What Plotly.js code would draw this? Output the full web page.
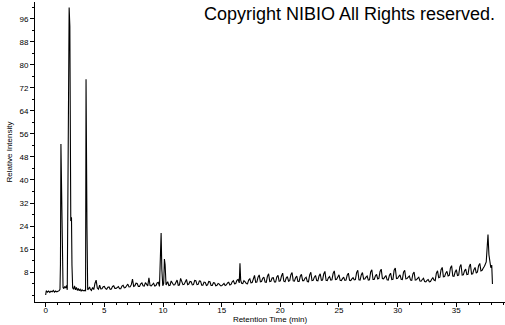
<!DOCTYPE html>
<html>
<head>
<meta charset="utf-8">
<script src="https://cdn.plot.ly/plotly-3.0.1.min.js"></script>
<style>html,body{margin:0;padding:0;background:#fff;}#chart{width:505px;height:325px;}</style>
</head>
<body>
<div id="chart"></div>
<script>
// Retention time (min) and relative intensity
const retentionTime = [
  0, 0.05, 0.15, 0.25, 0.35, 0.45, 0.55, 0.65, 0.75, 0.85, 0.95, 1.05, 1.15, 1.22, 1.26, 1.3, 1.36, 1.42, 1.48,
  1.55, 1.62, 1.7, 1.78, 1.84, 1.88, 1.94, 2.0, 2.06, 2.14, 2.2, 2.24, 2.3, 2.38, 2.46, 2.54, 2.62, 2.7, 2.78,
  2.86, 2.94, 3.02, 3.1, 3.18, 3.26, 3.34, 3.4, 3.44, 3.52, 3.58, 3.66, 3.74,
  3.8, 3.9,
  4.0, 4.1, 4.2, 4.3, 4.4, 4.5, 4.6, 4.7, 4.8, 4.9,
  5.0, 5.1, 5.2, 5.3, 5.4, 5.5, 5.6, 5.7, 5.8, 5.9,
  6.0, 6.1, 6.2, 6.3, 6.4, 6.5, 6.6, 6.7, 6.8, 6.9,
  7.0, 7.1, 7.2, 7.3, 7.4, 7.5, 7.6, 7.7, 7.8, 7.9,
  8.0, 8.1, 8.2, 8.3, 8.4, 8.5, 8.6, 8.7, 8.8, 8.9,
  9.0, 9.1, 9.2, 9.3, 9.4, 9.5, 9.6, 9.7,
  9.78, 9.84, 9.9, 9.98, 10.06, 10.12, 10.18, 10.26, 10.33,
  10.4, 10.5, 10.6, 10.7, 10.8, 10.9,
  11.0, 11.1, 11.2, 11.3, 11.4, 11.5, 11.6, 11.7, 11.8, 11.9,
  12.0, 12.1, 12.2, 12.3, 12.4, 12.5, 12.6, 12.7, 12.8, 12.9,
  13.0, 13.1, 13.2, 13.3, 13.4, 13.5, 13.6, 13.7, 13.8, 13.9,
  14.0, 14.1, 14.2, 14.3, 14.4, 14.5, 14.6, 14.7, 14.8, 14.9,
  15.0, 15.1, 15.2, 15.3, 15.4, 15.5, 15.6, 15.7, 15.8, 15.9,
  16.0, 16.1, 16.2, 16.3, 16.4, 16.5, 16.56, 16.62, 16.7, 16.8, 16.9,
  17.0, 17.1, 17.2, 17.3, 17.4, 17.5, 17.6, 17.7, 17.8, 17.9,
  18.0, 18.1, 18.2, 18.3, 18.4, 18.5, 18.6, 18.7, 18.8, 18.9,
  19.0, 19.1, 19.2, 19.3, 19.4, 19.5, 19.6, 19.7, 19.8, 19.9,
  20.0, 20.1, 20.2, 20.3, 20.4, 20.5, 20.6, 20.7, 20.8, 20.9,
  21.0, 21.1, 21.2, 21.3, 21.4, 21.5, 21.6, 21.7, 21.8, 21.9,
  22.0, 22.1, 22.2, 22.3, 22.4, 22.5, 22.6, 22.7, 22.8, 22.9,
  23.0, 23.1, 23.2, 23.3, 23.4, 23.5, 23.6, 23.7, 23.8, 23.9,
  24.0, 24.1, 24.2, 24.3, 24.4, 24.5, 24.6, 24.7, 24.8, 24.9,
  25.0, 25.1, 25.2, 25.3, 25.4, 25.5, 25.6, 25.7, 25.8, 25.9,
  26.0, 26.1, 26.2, 26.3, 26.4, 26.5, 26.6, 26.7, 26.8, 26.9,
  27.0, 27.1, 27.2, 27.3, 27.4, 27.5, 27.6, 27.7, 27.8, 27.9,
  28.0, 28.1, 28.2, 28.3, 28.4, 28.5, 28.6, 28.7, 28.8, 28.9,
  29.0, 29.1, 29.2, 29.3, 29.4, 29.5, 29.6, 29.7, 29.8, 29.9,
  30.0, 30.1, 30.2, 30.3, 30.4, 30.5, 30.6, 30.7, 30.8, 30.9,
  31.0, 31.1, 31.2, 31.3, 31.4, 31.5, 31.6, 31.7, 31.8, 31.9,
  32.0, 32.1, 32.2, 32.3, 32.4, 32.5, 32.6, 32.7, 32.8, 32.9,
  33.0, 33.1, 33.2, 33.3, 33.4, 33.5, 33.6, 33.7, 33.8, 33.9,
  34.0, 34.1, 34.2, 34.3, 34.4, 34.5, 34.6, 34.7, 34.8, 34.9,
  35.0, 35.1, 35.2, 35.3, 35.4, 35.5, 35.6, 35.7, 35.8, 35.9,
  36.0, 36.1, 36.2, 36.3, 36.4, 36.5, 36.6, 36.7, 36.8, 36.9,
  37.0, 37.1, 37.2, 37.3, 37.4, 37.55, 37.7, 37.78, 37.86, 37.94, 38.02, 38.08
];
const relIntensity = [
  0, 1.5, 1.0, 1.4, 0.9, 1.3, 1.1, 1.6, 1.0, 1.4, 1.1, 1.3, 1.5, 2.0, 10.8, 52.5, 37, 5.5, 2.6,
  2.2, 3.0, 2.4, 3.3, 1.8, 22, 57, 100, 93.5, 25.7, 27, 10.4, 2.5, 2.0, 3.2, 1.8, 2.6, 1.6, 2.3,
  1.5, 2.0, 1.4, 1.8, 1.5, 1.7, 1.6, 1.5, 75, 23.5, 1.8, 2.2, 2.8,
  2.0, 1.6,
  2.6, 1.9, 4.0, 5.2, 2.4, 2.0, 3.4, 2.1, 2.2, 2.9,
  3.0, 2.2, 2.0, 2.7, 2.8, 2.0, 2.1, 3.0, 3.2, 2.3,
  2.3, 2.8, 2.9, 2.2, 2.2, 3.1, 3.4, 2.5, 2.6, 3.2,
  3.8, 2.8, 2.9, 3.6, 5.5, 3.0, 3.2, 4.1, 4.0, 3.0,
  3.0, 3.9, 4.2, 3.2, 3.1, 4.3, 3.8, 3.2, 6.0, 3.3,
  3.2, 3.8, 4.1, 3.1, 3.3, 4.2, 4.4, 3.0,
  18, 21.6, 9, 3.2, 4.0, 12.5, 10.5, 3.5, 4.1,
  4.6, 3.3, 3.4, 4.9, 4.4, 3.5,
  3.6, 4.6, 5.2, 3.4, 3.5, 5.8, 4.8, 3.6, 3.7, 4.9,
  5.4, 3.6, 3.8, 4.7, 4.6, 3.5, 3.6, 5.1, 5.0, 3.6,
  3.7, 4.9, 4.8, 3.4, 3.4, 4.5, 4.4, 3.3, 3.5, 4.7,
  4.6, 3.3, 3.3, 4.3, 4.2, 3.2, 3.4, 4.0, 3.8, 3.2,
  3.2, 3.6, 4.0, 3.3, 3.5, 4.2, 4.4, 3.5, 3.7, 4.6,
  5.0, 3.9, 4.0, 5.1, 5.4, 4.2, 11, 5.2, 4.1, 4.0, 5.0,
  4.6, 4.0, 3.9, 5.2, 5.6, 4.2, 4.3, 6.1, 6.8, 4.4,
  4.5, 6.2, 7.0, 4.6, 4.7, 5.8, 6.2, 4.5, 4.4, 6.5,
  7.4, 4.7, 4.8, 5.9, 6.0, 4.5, 4.5, 6.3, 6.8, 4.8,
  4.9, 6.6, 7.6, 4.8, 4.6, 5.9, 6.4, 4.8, 5.0, 7.1,
  7.8, 4.9, 4.8, 6.0, 6.6, 4.7, 4.7, 6.5, 7.2, 5.0,
  5.0, 5.8, 6.2, 4.7, 4.6, 7.0, 7.9, 5.0, 5.1, 6.2,
  6.8, 5.0, 4.9, 6.6, 7.4, 5.1, 5.2, 7.3, 8.2, 5.1,
  5.0, 6.0, 6.4, 5.2, 5.3, 7.5, 8.4, 5.4, 5.5, 6.3,
  7.0, 5.1, 5.0, 5.7, 6.2, 5.1, 5.2, 6.9, 7.6, 5.1,
  5.0, 5.6, 6.0, 5.3, 5.4, 7.8, 8.6, 5.3, 5.2, 7.0,
  7.8, 5.5, 5.6, 6.2, 6.6, 5.2, 5.3, 8.0, 8.8, 5.4,
  5.4, 6.6, 7.2, 5.6, 5.8, 8.2, 9.0, 5.7, 5.6, 6.2,
  6.8, 5.3, 5.2, 6.9, 7.6, 5.4, 5.5, 8.6, 9.4, 5.7,
  5.8, 6.5, 7.0, 5.5, 5.4, 7.9, 8.6, 5.6, 5.7, 6.2,
  6.6, 5.2, 5.1, 7.3, 8.0, 5.2, 5.3, 5.8, 6.2, 4.9,
  4.8, 5.4, 5.8, 4.7, 4.6, 5.1, 5.4, 4.6, 4.7, 5.5,
  6.0, 5.2, 5.0, 7.6, 8.4, 6.0, 6.2, 8.8, 9.6, 6.3,
  6.4, 7.6, 8.2, 6.6, 6.8, 9.4, 10.2, 6.6, 6.5, 8.0,
  8.8, 6.8, 6.9, 9.8, 10.6, 6.9, 7.0, 8.4, 9.0, 7.1,
  7.2, 9.9, 10.8, 7.3, 7.4, 8.8, 9.6, 7.6, 8.0, 10.2,
  11.0, 8.4, 8.6, 9.4, 10.0, 11.5, 21, 14, 11.6, 9.5, 10.4, 3.8
];
const xTickVals = [0, 5, 10, 15, 20, 25, 30, 35];
const yTickVals = [8, 16, 24, 32, 40, 48, 56, 64, 72, 80, 88, 96];
const xTitle = 'Retention Time (min)';
const yTitle = 'Relative Intensity';
const copyrightText = 'Copyright NIBIO All Rights reserved.';

const font = 'Liberation Sans, Arial, sans-serif';

const trace = {
  x: retentionTime,
  y: relIntensity,
  type: 'scatter',
  mode: 'lines',
  line: {color: '#000', width: 1.1},
  hoverinfo: 'skip'
};

const layout = {
  width: 505,
  height: 325,
  margin: {l: 35, r: 0, t: 2, b: 23, pad: 0},
  paper_bgcolor: '#fff',
  plot_bgcolor: '#fff',
  showlegend: false,
  font: {family: font, color: '#000', size: 8},
  xaxis: {
    range: [-0.91, 39.15],
    tickvals: xTickVals,
    ticktext: xTickVals.map(String),
    ticks: 'outside', ticklen: 4, tickwidth: 1, tickcolor: '#000',
    ticklabelstandoff: -4,
    minor: {dtick: 1, tick0: 0, ticks: 'outside', ticklen: 2, tickcolor: '#000', showgrid: false},
    showline: true, linecolor: '#000', linewidth: 1,
    showgrid: false, zeroline: false,
    tickfont: {family: font, size: 8, color: '#000'},
    title: {text: xTitle, font: {family: font, size: 8, color: '#000'}, standoff: 0},
    automargin: false
  },
  yaxis: {
    range: [-2.43, 101.9],
    tickvals: yTickVals,
    ticktext: yTickVals.map(String),
    ticks: 'outside', ticklen: 4, tickwidth: 1, tickcolor: '#000',
    minor: {dtick: 4, tick0: 0, ticks: 'outside', ticklen: 2, tickcolor: '#000', showgrid: false},
    showline: true, linecolor: '#000', linewidth: 1,
    showgrid: false, zeroline: false,
    tickfont: {family: font, size: 8, color: '#000'},
    title: {text: yTitle, font: {family: font, size: 8, color: '#000'}, standoff: 5},
    automargin: false
  },
  annotations: [{
    text: copyrightText,
    xref: 'paper', yref: 'paper',
    x: 0.983, y: 1.0,
    xanchor: 'right', yanchor: 'top',
    showarrow: false,
    font: {family: font, size: 18, color: '#000'}
  }]
};

Plotly.newPlot('chart', [trace], layout, {staticPlot: true, displayModeBar: false});
</script>
</body>
</html>
